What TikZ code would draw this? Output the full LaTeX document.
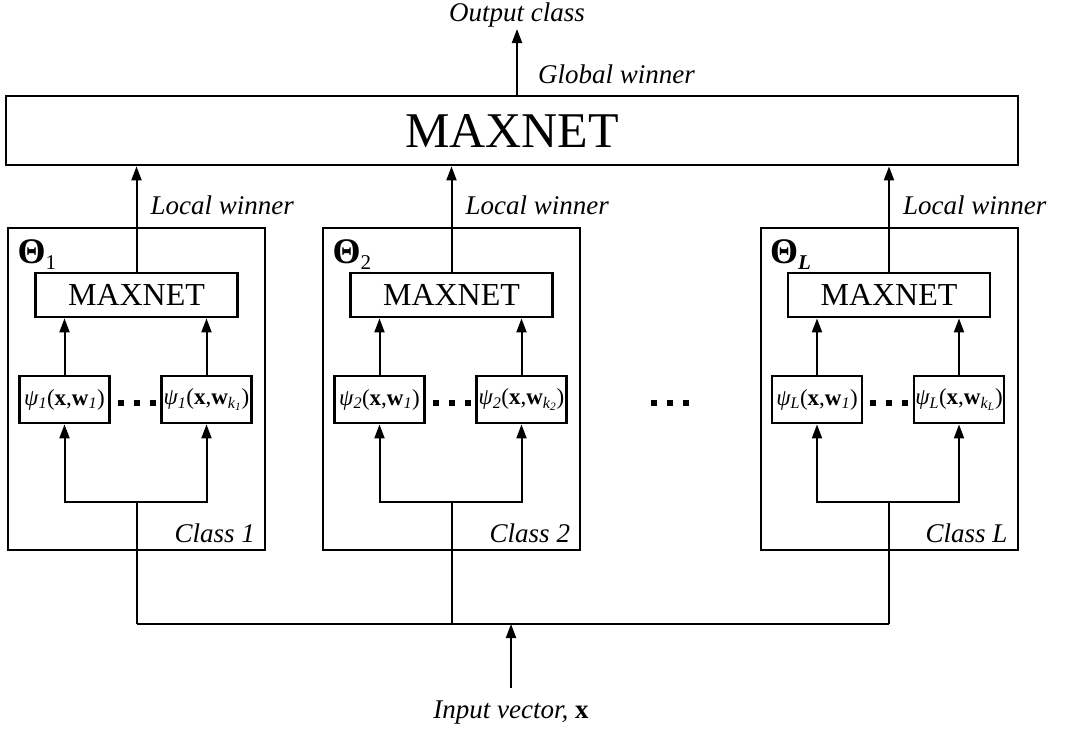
\documentclass[tikz,border=0pt]{standalone}
\usepackage{fontspec}
\setmainfont{Liberation Serif}
\usetikzlibrary{arrows.meta, positioning}

\newcommand{\fsz}[1]{\fontsize{#1}{#1}\selectfont}
% discriminant function label: psi_i(x, w_j)
\newcommand{\psilab}[2]{{\itshape ψ}\textsubscript{\itshape #1}(\textbf{x},\textbf{w}\textsubscript{\itshape #2})}

\begin{document}
\begin{tikzpicture}[x=1pt, y=-1pt, > = {Triangle[length=14pt, width=10pt]}, line width=2pt,
  net/.style={draw, line width=2.8pt, inner sep=0pt},
  classbox/.style={draw, line width=2pt, minimum width=257pt, minimum height=322pt, inner sep=0pt},
  psibox/.style={draw, line width=2.8pt, minimum width=90pt, minimum height=47pt, inner sep=0pt, font=\fsz{23}},
  lbl/.style={font=\fsz{27}\itshape, inner sep=0pt}]

\useasboundingbox (0,0) rectangle (1068,731);

% global maxnet
\node[net, minimum width=1012pt, minimum height=69pt, font=\fsz{50}] (top) at (512,130.5) {MAXNET};
\coordinate (outtip) at (517,29);
\draw[->] (top.north -| outtip) -- (outtip);
\node[lbl, anchor=base]       (outcls) at (517,21) {Output class};
\node[lbl, anchor=base west]  (glob)   at (537,83) {Global winner};

% one subnet per class
\foreach \n/\cx/\th in {1/136.5/{1}, 2/451.5/{2}, L/889/{\textbf{\textit{L}}}} {
  \node[classbox] (box\n) at (\cx,389) {};
  \node[net, minimum width=202pt, minimum height=44pt, font=\fsz{32}] (mx\n) at (\cx,295) {MAXNET};
  \node[psibox] (pa\n) at (\cx-72,399.5) {\psilab{\n}{1}};
  \node[psibox] (pb\n) at (\cx+70,399.5) {\psilab{\n}{k\textsubscript{\n}}};
  \node[anchor=base west, inner sep=0pt] (th\n) at (\cx-120,263)
    {{\fsz{36}\textbf{Θ}}\raisebox{-6pt}{\fsz{21}\th}};
  \node[lbl, anchor=base east] (cl\n) at (\cx+119.5,542) {Class \n};
  \node[lbl, anchor=base west] (lw\n) at (\cx+13,214) {Local winner};

  \draw[->] (pa\n.north) -- (pa\n.north |- mx\n.south);
  \draw[->] (pb\n.north) -- (pb\n.north |- mx\n.south);
  \draw[->] (mx\n.north) -- (mx\n.north |- top.south);

  % fork from the input bus
  \coordinate (fk\n)  at (\cx,502);
  \coordinate (bus\n) at (\cx,624);
  \draw[->] (fk\n) -| (pa\n.south);
  \draw[->] (fk\n) -| (pb\n.south);
  \draw (fk\n) -- (bus\n);

  \foreach \d in {-16,0,16}
    \fill (\cx+\d-3,400) rectangle ++(6,6);
}

% dots between classes
\foreach \d in {-16,0,16}
  \fill (670+\d-3,400) rectangle ++(6,6);

% input bus
\draw (bus1) -- (busL);
\coordinate (inp) at (511,688);
\draw[->] (inp) -- (inp |- bus1);
\node[lbl, anchor=base] (invec) at (511,718) {Input vector, \textbf{\upshape x}};

\end{tikzpicture}
\end{document}
